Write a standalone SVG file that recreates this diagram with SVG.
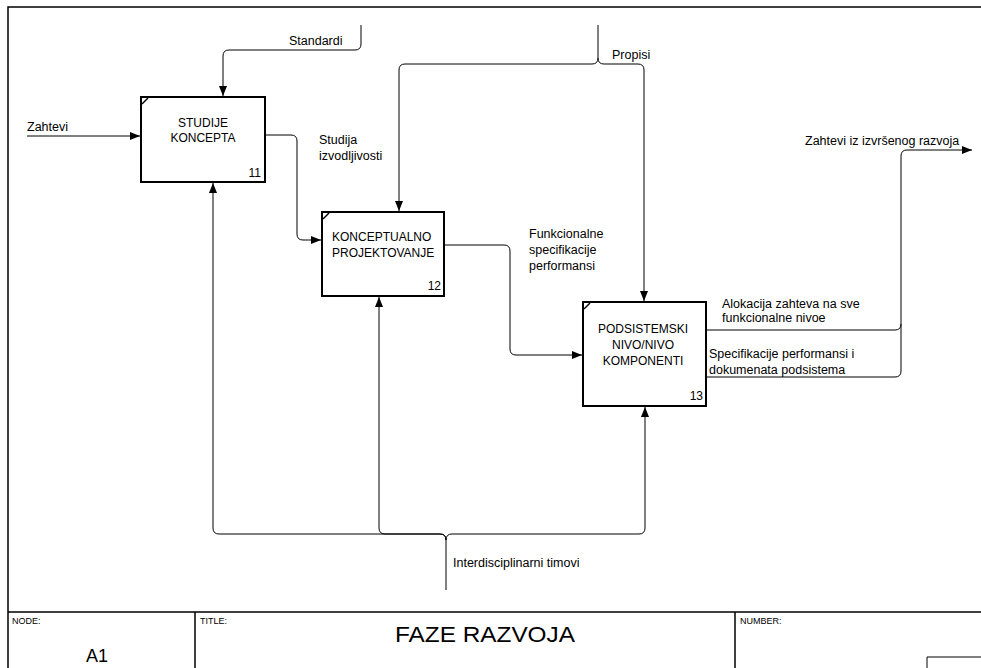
<svg xmlns="http://www.w3.org/2000/svg" width="981" height="668" viewBox="0 0 981 668">
  <style>
    text { font-family: "Liberation Sans", Arial, sans-serif; fill: #000; }
    .lbl { font-size: 12.5px; }
    .box { fill: #fff; stroke: #000; stroke-width: 2; }
    .tick { stroke: #000; stroke-width: 1.5; fill: none; }
    .num { font-size: 12px; text-anchor: end; }
    .name { font-size: 12px; }
    .wire { fill: none; stroke: #000; stroke-width: 1; }
    .frame { fill: none; stroke: #000; stroke-width: 1.5; }
    .small { font-size: 9px; }
  </style>
  <defs>
    <marker id="arrow" viewBox="0 0 10 8" refX="10" refY="4" markerWidth="10" markerHeight="8" markerUnits="userSpaceOnUse" orient="auto">
      <path d="M0,0 L10,4 L0,8 Z" fill="#000"/>
    </marker>
  </defs>
  <rect width="981" height="668" fill="#fff"/>

  <!-- drawing frame -->
  <g id="frame">
    <path class="frame" d="M8,670 V7 H995"/>
    <path class="frame" d="M8,612 H995 M195,612 V670 M735,612 V670"/>
    <path d="M927,670 V657 H995" fill="none" stroke="#000" stroke-width="1"/>
    <text class="small" x="12" y="624">NODE:</text>
    <text class="small" x="200" y="624">TITLE:</text>
    <text class="small" x="740" y="624">NUMBER:</text>
    <text x="485" y="642" font-size="22" text-anchor="middle" textLength="180" lengthAdjust="spacingAndGlyphs">FAZE  RAZVOJA</text>
    <text x="97" y="662" font-size="18" text-anchor="middle">A1</text>
  </g>

  <!-- connectors -->
  <g id="connectors">
    <!-- Zahtevi -->
    <path class="wire" d="M27,136 H140" marker-end="url(#arrow)"/>
    <text class="lbl" x="27" y="131">Zahtevi</text>
    <!-- Standardi -->
    <path class="wire" d="M361,25 V44 Q361,50 355,50 H229 Q223,50 223,56 V96" marker-end="url(#arrow)"/>
    <text class="lbl" x="289" y="45">Standardi</text>
    <!-- Propisi -->
    <path class="wire" d="M598,25 V58 Q598,64 592,64 H405 Q399,64 399,70 V211" marker-end="url(#arrow)"/>
    <path class="wire" d="M598,58 Q598,64 604,64 H638 Q644,64 644,70 V301" marker-end="url(#arrow)"/>
    <text class="lbl" x="612" y="59">Propisi</text>
    <!-- Studija izvodljivosti -->
    <path class="wire" d="M265,135 H291 Q297,135 297,141 V234 Q297,240 303,240 H321" marker-end="url(#arrow)"/>
    <text class="lbl" x="319" y="144">Studija</text>
    <text class="lbl" x="319" y="160">izvodljivosti</text>
    <!-- Funkcionalne specifikacije performansi -->
    <path class="wire" d="M444,245 H504 Q510,245 510,251 V349 Q510,355 516,355 H582" marker-end="url(#arrow)"/>
    <text class="lbl" x="529" y="238">Funkcionalne</text>
    <text class="lbl" x="529" y="254">specifikacije</text>
    <text class="lbl" x="529" y="270">performansi</text>
    <!-- outputs of 13 -->
    <path class="wire" d="M706,330 H895 Q901,330 901,324 V156 Q901,150 907,150 H972" marker-end="url(#arrow)"/>
    <path class="wire" d="M706,377 H895 Q901,377 901,371 V324"/>
    <text class="lbl" x="722" y="308" font-size="11.5">Alokacija zahteva na sve</text>
    <text class="lbl" x="722" y="322" font-size="11.5">funkcionalne nivoe</text>
    <text class="lbl" x="709" y="358">Specifikacije performansi i</text>
    <text class="lbl" x="709" y="374">dokumenata podsistema</text>
    <text class="lbl" x="805" y="145">Zahtevi iz izvršenog razvoja</text>
    <!-- Interdisciplinarni timovi -->
    <path class="wire" d="M446,590 V540 Q446,534 440,534 H219 Q213,534 213,528 V183" marker-end="url(#arrow)"/>
    <path class="wire" d="M446,540 Q446,534 440,534 H385 Q379,534 379,528 V297" marker-end="url(#arrow)"/>
    <path class="wire" d="M446,540 Q446,534 452,534 H639 Q645,534 645,528 V407" marker-end="url(#arrow)"/>
    <text class="lbl" x="453" y="567">Interdisciplinarni timovi</text>
  </g>

  <!-- activity boxes -->
  <g id="node-11">
    <rect class="box" x="141" y="97" width="124" height="85"/>
    <path class="tick" d="M142,104 L148,98"/>
    <text class="name" x="203" y="127" text-anchor="middle">STUDIJE</text>
    <text class="name" x="203" y="142" text-anchor="middle">KONCEPTA</text>
    <text class="num" x="261" y="177">11</text>
  </g>
  <g id="node-12">
    <rect class="box" x="322" y="212" width="122" height="84"/>
    <path class="tick" d="M323,219 L329,213"/>
    <text class="name" x="332" y="241">KONCEPTUALNO</text>
    <text class="name" x="332" y="257">PROJEKTOVANJE</text>
    <text class="num" x="441" y="290">12</text>
  </g>
  <g id="node-13">
    <rect class="box" x="583" y="302" width="123" height="104"/>
    <path class="tick" d="M584,309 L590,303"/>
    <text class="name" x="643" y="333" text-anchor="middle">PODSISTEMSKI</text>
    <text class="name" x="643" y="349" text-anchor="middle">NIVO/NIVO</text>
    <text class="name" x="643" y="365" text-anchor="middle">KOMPONENTI</text>
    <text class="num" x="703" y="400">13</text>
  </g>
</svg>
